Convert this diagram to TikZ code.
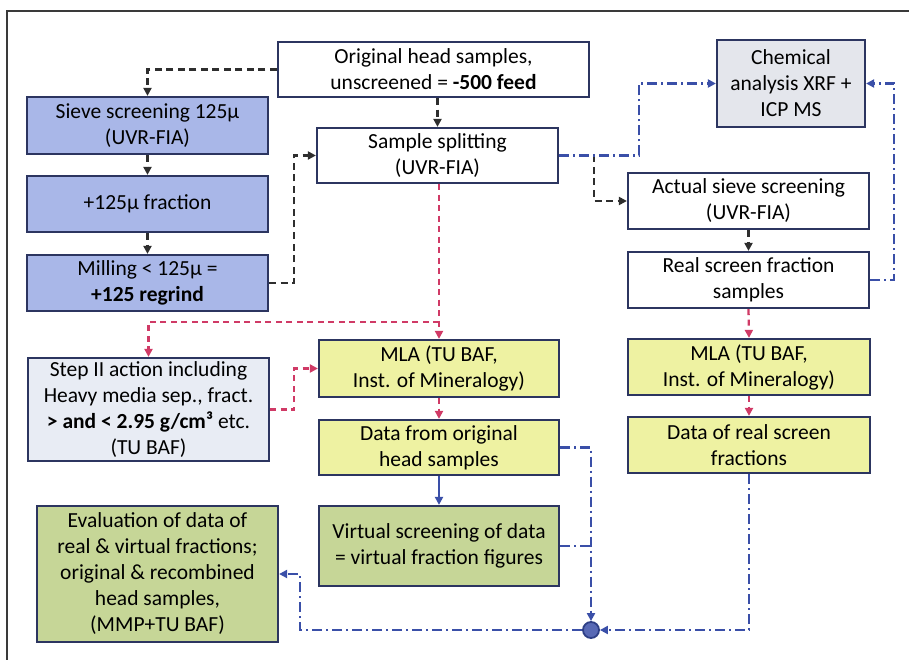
\documentclass[tikz,border=0pt]{standalone}
\usepackage{fontspec}
\setmainfont{Carlito}
\usetikzlibrary{arrows.meta,calc}
\definecolor{edge}{HTML}{2C3560}
\definecolor{bluefill}{HTML}{A9B7E8}
\definecolor{stepfill}{HTML}{E8ECF4}
\definecolor{chemfill}{HTML}{E4E6EC}
\definecolor{yelfill}{HTML}{EEF2A2}
\definecolor{grnfill}{HTML}{C6D697}
\definecolor{blkline}{HTML}{2E2E2E}
\definecolor{redline}{HTML}{D03A66}
\definecolor{blueline}{HTML}{3A4FA8}
\definecolor{frameline}{HTML}{3A3A3A}
\tikzset{
  box/.style={draw=edge, line width=2.2pt, align=center, inner sep=2pt,
    font=\fontsize{21.5}{26}\selectfont, text=black},
  tip/.style={-{Triangle[length=8pt,width=8pt]}},
  blk/.style={draw=blkline, line width=2.5pt, dash pattern=on 7pt off 4.5pt},
  redl/.style={draw=redline, line width=2.3pt, dash pattern=on 6pt off 4.5pt},
  bdd/.style={draw=blueline, line width=2.1pt, dash pattern=on 10pt off 4pt on 2pt off 4pt},
  bsolid/.style={draw=blueline, line width=2.1pt},
}
\begin{document}
\begin{tikzpicture}[x=1pt,y=-1pt]
\useasboundingbox (0,0) rectangle (909,660);
% frame edges
\draw[frameline, line width=2.2pt] (909,11) -- (7,11) -- (7,660);

% boxes
\node[box, minimum width=311pt, minimum height=55pt] (orig) at (433.5,69.5)
  {Original head samples,\\unscreened = \textbf{-500 feed}};
\node[box, fill=bluefill, minimum width=241pt, minimum height=57pt] (sieve) at (147.5,125.5)
  {Sieve screening 125µ\\(UVR-FIA)};
\node[box, fill=bluefill, minimum width=241pt, minimum height=56pt] (frac) at (147.5,204)
  {+125µ fraction};
\node[box, fill=bluefill, minimum width=241pt, minimum height=56pt] (mill) at (147.5,283)
  {Milling < 125µ =\\\textbf{+125 regrind}};
\node[box, minimum width=241pt, minimum height=55pt] (split) at (437.5,155.5)
  {Sample splitting\\(UVR-FIA)};
\node[box, fill=chemfill, minimum width=148pt, minimum height=87pt] (chem) at (791,83.5)
  {Chemical\\analysis XRF +\\ICP MS};
\node[box, minimum width=241pt, minimum height=56pt] (actual) at (748.5,201)
  {Actual sieve screening\\(UVR-FIA)};
\node[box, minimum width=241pt, minimum height=56pt] (real) at (748.5,280)
  {Real screen fraction\\samples};
\node[box, fill=stepfill, minimum width=241pt, minimum height=103pt] (step) at (148.5,409.5)
  {Step II action including\\Heavy media sep., fract.\\\textbf{> and < 2.95 g/cm³} etc.\\(TU BAF)};
\node[box, fill=yelfill, minimum width=240pt, minimum height=57pt] (mlaL) at (439,368.5)
  {MLA (TU BAF,\\Inst. of Mineralogy)};
\node[box, fill=yelfill, minimum width=240pt, minimum height=55pt] (dataO) at (439,447.5)
  {Data from original\\head samples};
\node[box, fill=grnfill, minimum width=240pt, minimum height=80pt] (virt) at (439,546)
  {Virtual screening of data\\= virtual fraction figures};
\node[box, fill=grnfill, minimum width=241pt, minimum height=136pt] (eval) at (157.5,574)
  {Evaluation of data of\\real \& virtual fractions;\\original \& recombined\\head samples,\\(MMP+TU BAF)};
\node[box, fill=yelfill, minimum width=242pt, minimum height=56pt] (mlaR) at (749,367)
  {MLA (TU BAF,\\Inst. of Mineralogy)};
\node[box, fill=yelfill, minimum width=242pt, minimum height=56pt] (dataR) at (749,445)
  {Data of real screen\\fractions};
\node[circle, draw=blueline!80!black, line width=1.8pt, fill=blueline!85!white,
  minimum size=16pt, inner sep=0pt] (junc) at (591,630) {};

% black dashed flow
\draw[blk, tip] (orig.west) -| (sieve.north);
\draw[blk, tip] (split.north |- orig.south) -- (split.north);
\draw[blk, tip] (sieve.south) -- (frac.north);
\draw[blk, tip] (frac.south) -- (mill.north);
\draw[blk, tip] (mill.east) -- ++(25,0) |- (split.west);
\coordinate (fork) at ($(split.east)+(35,0)$);
\draw[blk, tip] (fork) |- (actual.west);
\draw[blk, tip] (actual.south) -- (real.north);

% chemical analysis links
\draw[bdd, tip] (split.east) -- ++(80,0) |- (chem.west);
\draw[bdd, tip] (real.east) -- ++(24,0) |- (chem.east);

% red dashed flow
\draw[redl, tip] (mlaL.north |- split.south) -- (mlaL.north);
\coordinate (redfork) at ($(mlaL.north)+(0,-17)$);
\draw[redl, tip] (redfork) -| (step.north);
\draw[redl, tip] (step.east) -- ++(24,0) |- (mlaL.west);
\draw[redl, tip] (mlaL.south) -- (dataO.north);
\draw[redl, tip] (real.south) -- (mlaR.north);
\draw[redl, tip] (mlaR.south) -- (dataR.north);

% data to evaluation
\draw[bsolid, tip] (dataO.south) -- (virt.north);
\draw[bdd, tip] (dataO.east) -| (junc.north);
\draw[bdd] (virt.east) -- (junc.north |- virt.east);
\draw[bdd, tip] (dataR.south) |- (junc.east);
\draw[bdd, tip] (junc.west) -- (300,630) |- (eval.east);
\end{tikzpicture}
\end{document}
